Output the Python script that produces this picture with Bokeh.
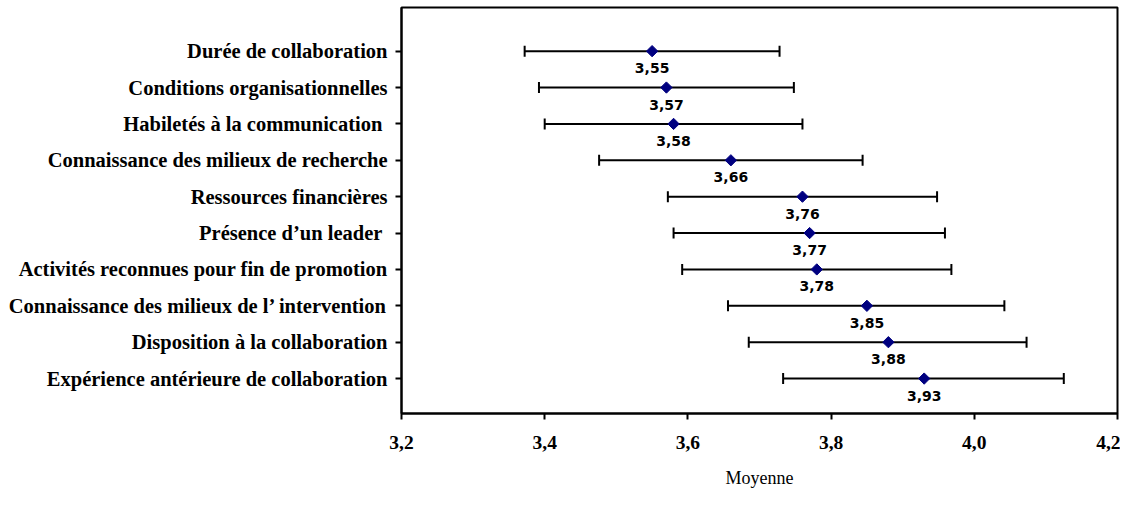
import math
from bokeh.plotting import figure
from bokeh.models import Range1d, FixedTicker, Whisker, TeeHead, ColumnDataSource
from bokeh.core.properties import value
from bokeh.embed import file_html
from bokeh.resources import INLINE

categories = [
    "Durée de collaboration",
    "Conditions organisationnelles",
    "Habiletés à la communication ",
    "Connaissance des milieux de recherche",
    "Ressources financières",
    "Présence d’un leader ",
    "Activités reconnues pour fin de promotion",
    "Connaissance des milieux de l’ intervention",
    "Disposition à la collaboration",
    "Expérience antérieure de collaboration",
]
means = [3.55, 3.57, 3.58, 3.66, 3.76, 3.77, 3.78, 3.85, 3.88, 3.93]
lower = [3.372, 3.392, 3.400, 3.476, 3.572, 3.580, 3.592, 3.656, 3.685, 3.733]
upper = [3.728, 3.748, 3.760, 3.844, 3.948, 3.959, 3.968, 4.042, 4.073, 4.125]
x_ticks = [3.2, 3.4, 3.6, 3.8, 4.0, 4.2]
x_tick_labels = ["3,2", "3,4", "3,6", "3,8", "4,0", "4,2"]
x_title = "Moyenne"

pos = list(range(len(categories)))
mean_labels = [f"{m:.2f}".replace(".", ",") for m in means]

src = ColumnDataSource(dict(pos=pos, mean=means, lower=lower, upper=upper, label=mean_labels))

p = figure(width=1120, height=490, output_backend="svg", toolbar_location=None,
           x_range=Range1d(3.2, 4.2), y_range=Range1d(9.96, -1.2),
           min_border_left=401, min_border_right=3, min_border_top=7, min_border_bottom=75)
p.background_fill_color = "white"
p.border_fill_color = "white"
p.outline_line_color = "black"
p.outline_line_width = 2
p.xgrid.visible = False
p.ygrid.visible = False

# y axis
p.yaxis.ticker = FixedTicker(ticks=pos)
p.yaxis.major_label_overrides = {i: c for i, c in zip(pos, categories)}
p.yaxis.major_label_text_font = "Liberation Serif"
p.yaxis.major_label_text_font_style = "bold"
p.yaxis.major_label_text_font_size = "20.5px"
p.yaxis.major_label_text_color = "black"
p.yaxis.major_label_standoff = 8
p.yaxis.minor_tick_line_color = None
p.yaxis.major_tick_out = 6
p.yaxis.major_tick_in = 0
p.yaxis.major_tick_line_width = 2
p.yaxis.axis_line_width = 2
p.yaxis.axis_line_color = "black"
p.yaxis.major_tick_line_color = "black"

# x axis
p.xaxis.ticker = FixedTicker(ticks=x_ticks)
p.xaxis.major_label_overrides = {t: l for t, l in zip(x_ticks, x_tick_labels)}
p.xaxis.major_label_text_font = "Liberation Serif"
p.xaxis.major_label_text_font_style = "bold"
p.xaxis.major_label_text_font_size = "19.5px"
p.xaxis.major_label_text_color = "black"
p.xaxis.major_label_standoff = 16
p.xaxis.minor_tick_line_color = None
p.xaxis.major_tick_out = 6
p.xaxis.major_tick_in = 0
p.xaxis.major_tick_line_width = 2
p.xaxis.axis_line_width = 2
p.xaxis.axis_line_color = "black"
p.xaxis.major_tick_line_color = "black"
p.xaxis.axis_label = x_title
p.xaxis.axis_label_text_font = "Liberation Serif"
p.xaxis.axis_label_text_font_style = "normal"
p.xaxis.axis_label_text_font_size = "18px"
p.xaxis.axis_label_text_color = "black"
p.xaxis.axis_label_standoff = 16

w = Whisker(source=src, base="pos", lower="lower", upper="upper", dimension="width",
            line_color="black", line_width=2,
            upper_head=TeeHead(size=11, line_color="black", line_width=2),
            lower_head=TeeHead(size=11, line_color="black", line_width=2))
p.add_layout(w)

p.scatter(x="mean", y="pos", source=src, marker="square", angle=math.pi / 4, size=8,
          fill_color="#000080", line_color="#000080")

p.text(x="mean", y="pos", text="label", source=src, text_align="center", text_baseline="middle",
       y_offset=17, text_font=value("DejaVu Sans"), text_font_style="bold",
       text_font_size="14px", text_color="black")

open("out.html", "w").write(file_html(p, INLINE))
